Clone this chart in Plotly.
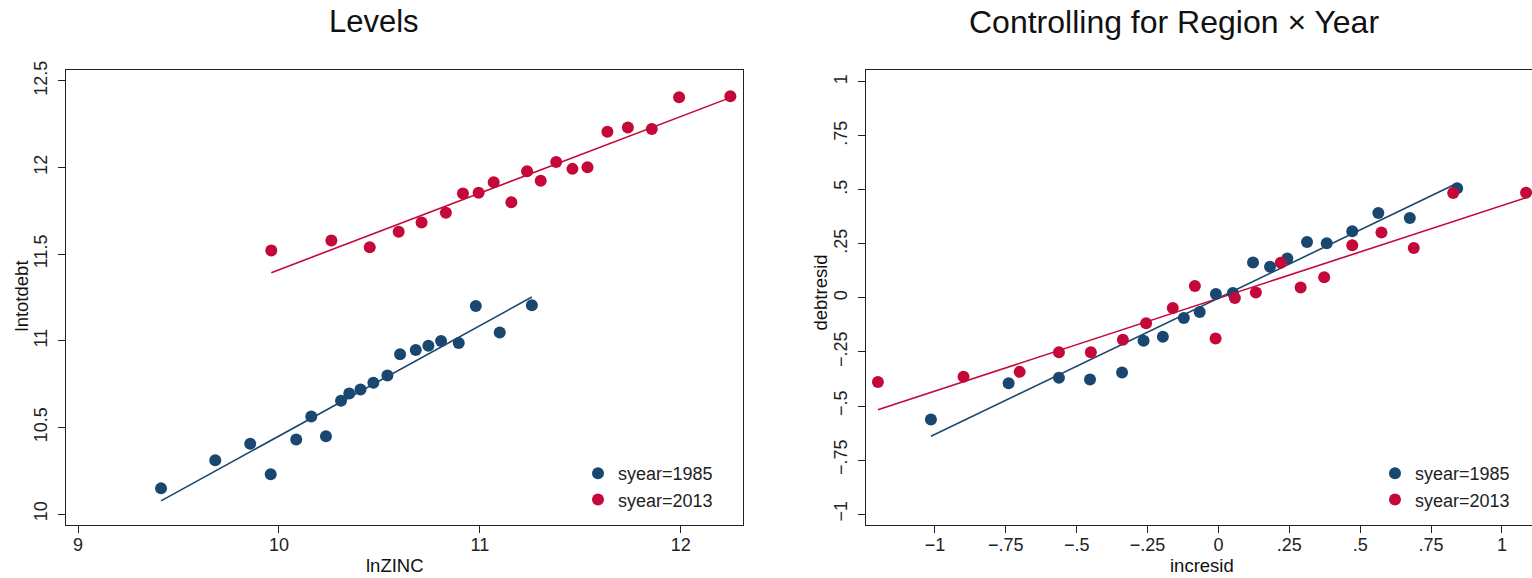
import numpy as np
import plotly.graph_objects as go

# ---------------- data ----------------
lev_x_1985 = [9.413, 9.683, 9.857, 9.959, 10.086, 10.161, 10.234, 10.309, 10.350, 10.406,
              10.470, 10.540, 10.603, 10.681, 10.744, 10.807, 10.895, 10.980, 11.099, 11.259]
lev_y_1985 = [10.148, 10.310, 10.405, 10.230, 10.430, 10.563, 10.449, 10.654, 10.696, 10.719,
              10.757, 10.800, 10.922, 10.947, 10.971, 10.998, 10.987, 11.200, 11.048, 11.205]

lev_x_2013 = [9.962, 10.261, 10.452, 10.596, 10.710, 10.831, 10.916, 10.994, 11.069, 11.157,
              11.235, 11.303, 11.380, 11.461, 11.536, 11.635, 11.737, 11.856, 11.992, 12.247]
lev_y_2013 = [11.521, 11.578, 11.540, 11.629, 11.682, 11.739, 11.850, 11.854, 11.915, 11.799,
              11.979, 11.924, 12.032, 11.992, 12.002, 12.206, 12.231, 12.222, 12.405, 12.411]

res_x_1985 = [-1.014, -0.740, -0.5625, -0.453, -0.340, -0.264, -0.196, -0.122, -0.066, -0.009,
              0.051, 0.122, 0.182, 0.243, 0.3125, 0.382, 0.472, 0.564, 0.675, 0.842]
res_y_1985 = [-0.562, -0.395, -0.369, -0.377, -0.345, -0.198, -0.179, -0.093, -0.065, 0.018,
              0.023, 0.164, 0.145, 0.183, 0.259, 0.253, 0.309, 0.393, 0.370, 0.508]

res_x_2013 = [-1.201, -0.899, -0.701, -0.5625, -0.450, -0.337, -0.255, -0.161, -0.083, -0.010,
              0.058, 0.132, 0.220, 0.290, 0.373, 0.472, 0.575, 0.689, 0.828, 1.085]
res_y_2013 = [-0.389, -0.365, -0.342, -0.251, -0.251, -0.193, -0.117, -0.046, 0.055, -0.187,
              0.000, 0.025, 0.163, 0.049, 0.096, 0.244, 0.303, 0.231, 0.486, 0.487]

series_names = ["syear=1985", "syear=2013"]
titles = ["Levels", "Controlling for Region \u00d7 Year"]

lev_xticks = [9, 10, 11, 12]
lev_xlabels = ["9", "10", "11", "12"]
lev_yticks = [10, 10.5, 11, 11.5, 12, 12.5]
lev_ylabels = ["10", "10.5", "11", "11.5", "12", "12.5"]

res_ticks = [-1, -0.75, -0.5, -0.25, 0, 0.25, 0.5, 0.75, 1]
res_labels = ["\u22121", "\u2212.75", "\u2212.5", "\u2212.25", "0", ".25", ".5", ".75", "1"]

# ---------------- style ----------------
BLUE = "#1a476f"
RED = "#c4083a"
FONT = "Liberation Sans, Arial, Helvetica, sans-serif"
W, H = 1532, 578


def fit(xs, ys):
    b, a = np.polyfit(xs, ys, 1)
    xx = np.array([min(xs), max(xs)])
    return xx, a + b * xx


fig = go.Figure()

panels = [
    ("x", "y", "legend", lev_x_1985, lev_y_1985, lev_x_2013, lev_y_2013),
    ("x2", "y2", "legend2", res_x_1985, res_y_1985, res_x_2013, res_y_2013),
]
for xa, ya, lg, x85, y85, x13, y13 in panels:
    for (xs, ys, col, name) in [(x85, y85, BLUE, series_names[0]), (x13, y13, RED, series_names[1])]:
        fx, fy = fit(xs, ys)
        fig.add_trace(go.Scatter(x=fx, y=fy, mode="lines", line=dict(color=col, width=1.6),
                                 showlegend=False, xaxis=xa, yaxis=ya, hoverinfo="skip"))
    for (xs, ys, col, name) in [(x85, y85, BLUE, series_names[0]), (x13, y13, RED, series_names[1])]:
        fig.add_trace(go.Scatter(x=xs, y=ys, mode="markers", name=name,
                                 marker=dict(color=col, size=12, line=dict(width=0)),
                                 xaxis=xa, yaxis=ya, legend=lg, cliponaxis=False))

ydom = [1 - 524 / H, 1 - 62 / H]
axis_common = dict(showgrid=False, zeroline=False, ticks="outside", ticklen=7, tickwidth=1,
                   tickcolor="#222", showline=True, linecolor="#222", linewidth=1,
                   tickfont=dict(family=FONT, size=18, color="#222"))

fig.update_layout(
    width=W, height=H,
    margin=dict(l=0, r=0, t=0, b=0),
    paper_bgcolor="white", plot_bgcolor="white",
    font=dict(family=FONT, color="#222"),
    xaxis=dict(domain=[66 / W, 743 / W], range=[8.94, 12.31], tickvals=lev_xticks,
               ticktext=lev_xlabels, mirror=True, anchor="y", ticklabelstandoff=-3, **axis_common),
    yaxis=dict(domain=ydom, range=[9.9375, 12.5625], tickvals=lev_yticks, ticktext=lev_ylabels,
               tickangle=-90, mirror=True, anchor="x", ticklabelstandoff=4, **axis_common),
    xaxis2=dict(domain=[866 / W, 1.0], range=[-1.243, 1.106], tickvals=res_ticks,
                ticktext=res_labels, mirror=True, anchor="y2", ticklabelstandoff=-3, **axis_common),
    yaxis2=dict(domain=ydom, range=[-1.05, 1.055], tickvals=res_ticks, ticktext=res_labels,
                tickangle=-90, mirror=False, anchor="x2", ticklabelstandoff=4, **axis_common),
    legend=dict(x=(578) / W, y=1 - 453 / H, xanchor="left", yanchor="top",
                font=dict(family=FONT, size=18, color="#222"), bgcolor="rgba(0,0,0,0)",
                borderwidth=0),
    legend2=dict(x=(1375) / W, y=1 - 453 / H, xanchor="left", yanchor="top",
                 font=dict(family=FONT, size=18, color="#222"), bgcolor="rgba(0,0,0,0)",
                 borderwidth=0),
    showlegend=True,
)

ann = [
    (titles[0], 374, 13, 31, 0),
    (titles[1], 1174, 13, 32, 0),
    ("lnZINC", 395, 565, 18.5, 0),
    ("incresid", 1202, 565, 18.5, 0),
    ("lntotdebt", 21, 292, 18.5, -90),
    ("debtresid", 821, 288, 18.5, -90),
]
for text, px, py, fs, ang in ann:
    fig.add_annotation(text=text, x=px / W, y=1 - py / H, xref="paper", yref="paper",
                       xanchor="center", yanchor="middle", showarrow=False, textangle=ang,
                       font=dict(family=FONT, size=fs, color="#111"))

fig.write_html("out.html")
